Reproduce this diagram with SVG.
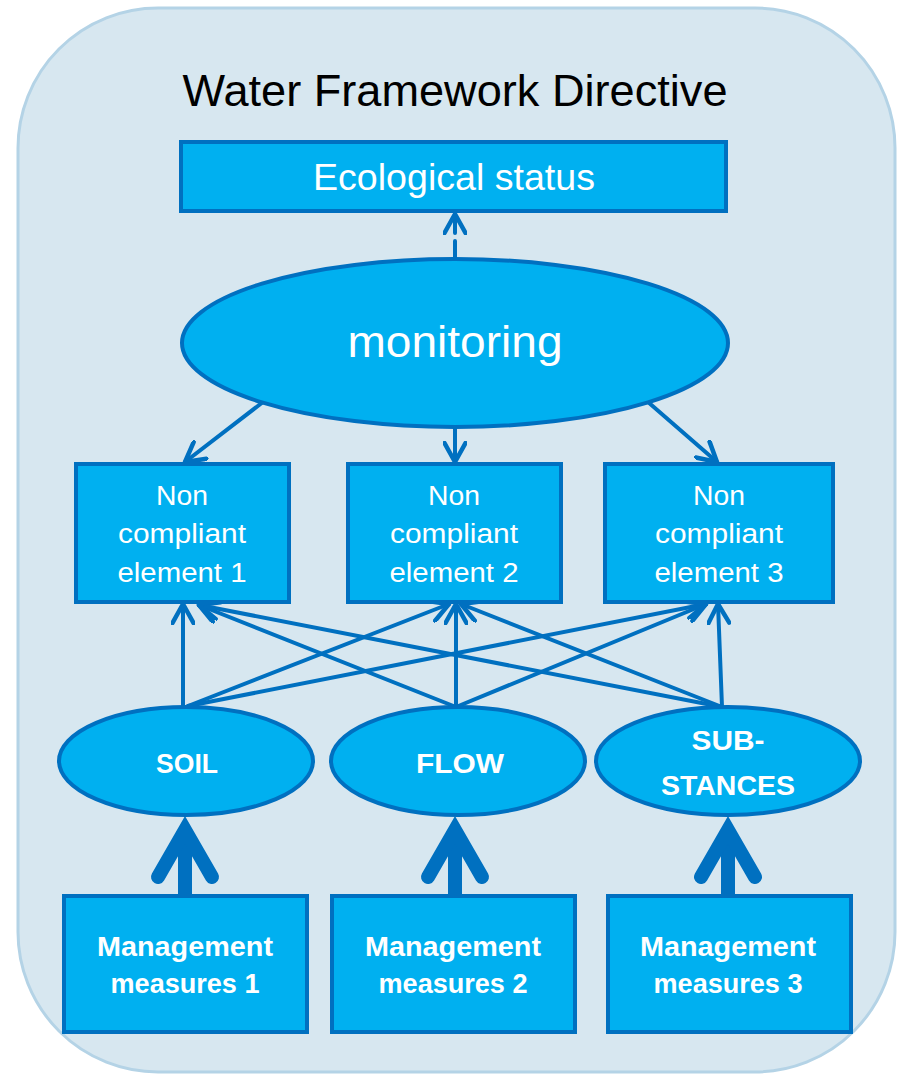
<svg xmlns="http://www.w3.org/2000/svg" width="898" height="1076" viewBox="0 0 898 1076">
<style>
.box{fill:#00B0F0;stroke:#0070C0;stroke-width:4}
.ell{fill:#00B0F0;stroke:#0070C0;stroke-width:4}
.t{fill:#FFFFFF;font-family:"Liberation Sans",Arial,sans-serif;text-anchor:middle}
.b{font-weight:bold;font-size:28px}
.n{font-size:27px}
.ln{fill:none;stroke:#0070C0;stroke-width:4;stroke-linecap:round}
.thick{fill:none;stroke:#0070C0;stroke-width:14}
</style>
<defs>
<marker id="ah" viewBox="0 0 24 24" refX="21" refY="12" markerWidth="24" markerHeight="24" markerUnits="userSpaceOnUse" orient="auto">
<path d="M2,1.5 L21,12 L2,22.5" fill="none" stroke="#0070C0" stroke-width="4.5" stroke-linecap="round" stroke-linejoin="round"/>
</marker>
</defs>
<g id="frame">
<rect x="18" y="8" width="877" height="1064" rx="140" ry="140" fill="#D7E7F0" stroke="#B4D3E6" stroke-width="3"/>
<text x="455" y="106" font-family="Liberation Sans,Arial,sans-serif" font-size="44" fill="#000000" text-anchor="middle" textLength="545" lengthAdjust="spacingAndGlyphs">Water Framework Directive</text>
</g>
<g id="connectors">
<path class="ln" d="M455,258 L455,241 M455,233 L455,214" stroke-width="5" marker-end="url(#ah)"/>
<line class="ln" x1="263" y1="402" x2="185" y2="462" marker-end="url(#ah)"/>
<line class="ln" x1="455" y1="427" x2="455" y2="462" marker-end="url(#ah)"/>
<line class="ln" x1="648" y1="402" x2="717" y2="462" marker-end="url(#ah)"/>
<line class="ln" x1="183" y1="707" x2="183" y2="604" marker-end="url(#ah)"/>
<line class="ln" x1="188" y1="706" x2="449" y2="604" marker-end="url(#ah)"/>
<line class="ln" x1="188" y1="706" x2="706" y2="604" marker-end="url(#ah)"/>
<line class="ln" x1="456" y1="707" x2="199" y2="605" marker-end="url(#ah)"/>
<line class="ln" x1="456" y1="707" x2="456" y2="604" marker-end="url(#ah)"/>
<line class="ln" x1="456" y1="707" x2="706" y2="604" marker-end="url(#ah)"/>
<line class="ln" x1="722" y1="707" x2="199" y2="605" marker-end="url(#ah)"/>
<line class="ln" x1="722" y1="707" x2="461" y2="604" marker-end="url(#ah)"/>
<line class="ln" x1="722" y1="707" x2="718" y2="604" marker-end="url(#ah)"/>
<line class="thick" x1="185" y1="896" x2="185" y2="836"/>
<path class="thick" d="M158,877 L185,830 L212,877" stroke-linecap="round" stroke-linejoin="miter"/>
<line class="thick" x1="455" y1="896" x2="455" y2="836"/>
<path class="thick" d="M428,877 L455,830 L482,877" stroke-linecap="round" stroke-linejoin="miter"/>
<line class="thick" x1="728" y1="896" x2="728" y2="836"/>
<path class="thick" d="M701,877 L728,830 L755,877" stroke-linecap="round" stroke-linejoin="miter"/>
</g>
<g id="ecological-status">
<rect class="box" x="181" y="142" width="545" height="69"/>
<text class="t" x="454" y="190" font-size="37" textLength="282" lengthAdjust="spacingAndGlyphs">Ecological status</text>
</g>
<g id="monitoring">
<ellipse class="ell" cx="455" cy="343" rx="273" ry="84" stroke-width="3"/>
<text class="t" x="455" y="357" font-size="45" textLength="215" lengthAdjust="spacingAndGlyphs">monitoring</text>
</g>
<g id="element-1">
<rect class="box" x="76" y="464" width="213" height="138"/>
<text class="t n" x="182" y="505" textLength="52" lengthAdjust="spacingAndGlyphs">Non</text>
<text class="t n" x="182" y="543" textLength="128" lengthAdjust="spacingAndGlyphs">compliant</text>
<text class="t n" x="182" y="582" textLength="129" lengthAdjust="spacingAndGlyphs">element 1</text>
</g>
<g id="element-2">
<rect class="box" x="348" y="464" width="213" height="138"/>
<text class="t n" x="454" y="505" textLength="52" lengthAdjust="spacingAndGlyphs">Non</text>
<text class="t n" x="454" y="543" textLength="128" lengthAdjust="spacingAndGlyphs">compliant</text>
<text class="t n" x="454" y="582" textLength="129" lengthAdjust="spacingAndGlyphs">element 2</text>
</g>
<g id="element-3">
<rect class="box" x="605" y="464" width="228" height="138"/>
<text class="t n" x="719" y="505" textLength="52" lengthAdjust="spacingAndGlyphs">Non</text>
<text class="t n" x="719" y="543" textLength="128" lengthAdjust="spacingAndGlyphs">compliant</text>
<text class="t n" x="719" y="582" textLength="129" lengthAdjust="spacingAndGlyphs">element 3</text>
</g>
<g id="soil">
<ellipse class="ell" cx="186" cy="761" rx="127" ry="54"/>
<text class="t b" x="187" y="773" textLength="62" lengthAdjust="spacingAndGlyphs">SOIL</text>
</g>
<g id="flow">
<ellipse class="ell" cx="458" cy="761" rx="127" ry="54"/>
<text class="t b" x="460" y="773" textLength="88" lengthAdjust="spacingAndGlyphs">FLOW</text>
</g>
<g id="substances">
<ellipse class="ell" cx="728" cy="761" rx="132" ry="54"/>
<text class="t b" x="728" y="750" textLength="73" lengthAdjust="spacingAndGlyphs">SUB-</text>
<text class="t b" x="728" y="795" textLength="134" lengthAdjust="spacingAndGlyphs">STANCES</text>
</g>
<g id="management-1">
<rect class="box" x="64" y="896" width="243" height="136"/>
<text class="t b" x="185" y="956" textLength="176" lengthAdjust="spacingAndGlyphs">Management</text>
<text class="t b" x="185" y="993" textLength="149" lengthAdjust="spacingAndGlyphs">measures 1</text>
</g>
<g id="management-2">
<rect class="box" x="332" y="896" width="243" height="136"/>
<text class="t b" x="453" y="956" textLength="176" lengthAdjust="spacingAndGlyphs">Management</text>
<text class="t b" x="453" y="993" textLength="149" lengthAdjust="spacingAndGlyphs">measures 2</text>
</g>
<g id="management-3">
<rect class="box" x="608" y="896" width="243" height="136"/>
<text class="t b" x="728" y="956" textLength="176" lengthAdjust="spacingAndGlyphs">Management</text>
<text class="t b" x="728" y="993" textLength="149" lengthAdjust="spacingAndGlyphs">measures 3</text>
</g>
</svg>
